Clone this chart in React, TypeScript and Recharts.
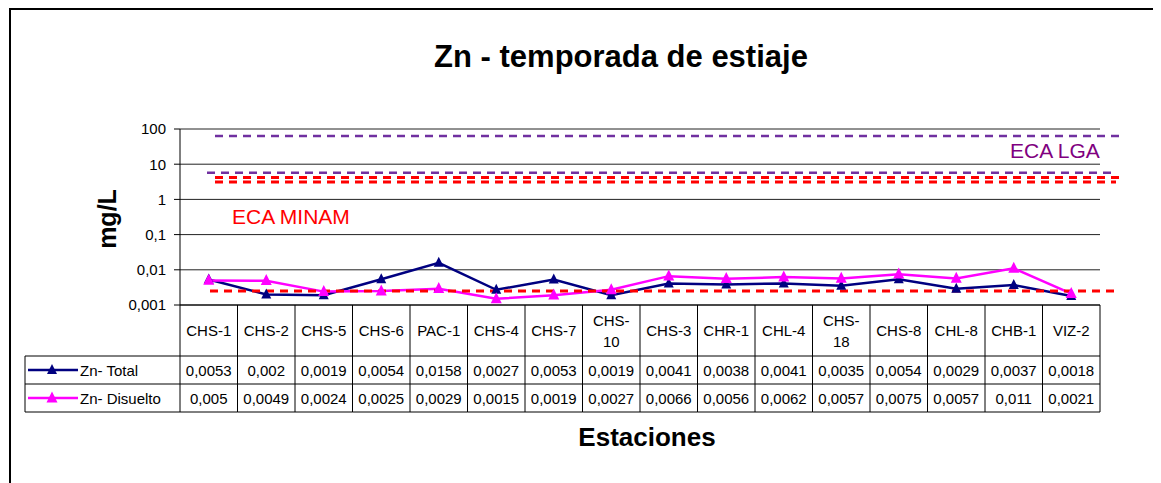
import { LineChart, Line, XAxis, YAxis, CartesianGrid, ReferenceLine } from "recharts";

const stations = [
  "CHS-1", "CHS-2", "CHS-5", "CHS-6", "PAC-1", "CHS-4", "CHS-7", "CHS-10",
  "CHS-3", "CHR-1", "CHL-4", "CHS-18", "CHS-8", "CHL-8", "CHB-1", "VIZ-2",
];
const znTotal = [
  0.0053, 0.002, 0.0019, 0.0054, 0.0158, 0.0027, 0.0053, 0.0019,
  0.0041, 0.0038, 0.0041, 0.0035, 0.0054, 0.0029, 0.0037, 0.0018,
];
const znDisuelto = [
  0.005, 0.0049, 0.0024, 0.0025, 0.0029, 0.0015, 0.0019, 0.0027,
  0.0066, 0.0056, 0.0062, 0.0057, 0.0075, 0.0057, 0.011, 0.0021,
];
const yTicks = [0.001, 0.01, 0.1, 1, 10, 100];
// guideline values (mg/L)
const ecaLGA = [63, 5.7];
const ecaMINAM = [4.2, 3.1, 0.0025];

const FONT = "'Liberation Sans', Arial, sans-serif";
const NAVY = "#000080";
const MAGENTA = "#FF00FF";
const PURPLE = "#7030A0";
const RED = "#FF0000";

const W = 1153;
const H = 475;
const MARGIN = { top: 121, right: 61, bottom: 68, left: 112 };
const Y_AXIS_W = 60;
const PLOT_LEFT = MARGIN.left + Y_AXIS_W;
const PLOT_W = W - PLOT_LEFT - MARGIN.right;
const COL_W = PLOT_W / stations.length;
const PLOT_BOTTOM = H - MARGIN.bottom - 110;
const HEAD_H = 51;
const ROW_H = 28;
const LEGEND_LEFT = 17;

// [start inset, overhang past right edge] for each dashed line
const lgaStyle = [[35, 22], [27, 13]];
const minamStyle = [[35, 21], [35, 16], [30, 14]];

const data = stations.map((s, i) => ({ name: s, total: znTotal[i], disuelto: znDisuelto[i] }));

const fmt = (v: number) => String(v).replace(".", ",");

function Triangle({ cx, cy, fill, size }: { cx: number; cy: number; fill: string; size: number }) {
  if (cx == null || cy == null) return null;
  const h = size;
  return (
    <path
      d={`M${cx},${cy - h * 0.6} L${cx + size / 2},${cy + h * 0.4} L${cx - size / 2},${cy + h * 0.4} Z`}
      fill={fill}
    />
  );
}

function dashShape(inset: number, over: number, color: string, width: number) {
  return (p: any) => (
    <line
      x1={PLOT_LEFT + inset}
      x2={PLOT_LEFT + PLOT_W + over}
      y1={p.y1}
      y2={p.y2}
      stroke={color}
      strokeWidth={width}
      strokeDasharray="8 6"
    />
  );
}

function TableColumn(props: any) {
  const { x, index } = props;
  const label: string = stations[index];
  const left = x - COL_W / 2;
  const right = x + COL_W / 2;
  const top = PLOT_BOTTOM;
  const r1 = top + HEAD_H;
  const r2 = r1 + ROW_H;
  const r3 = r2 + ROW_H;
  const cut = label.indexOf("-") + 1;
  const lines = label.length > 5 ? [label.slice(0, cut), label.slice(cut)] : [label];
  const textStyle = { fontFamily: FONT, fontSize: 15, fill: "#000" };
  return (
    <g>
      <line x1={left} x2={left} y1={top} y2={r3} stroke="#000" />
      {index === stations.length - 1 && <line x1={right} x2={right} y1={top} y2={r3} stroke="#000" />}
      <line x1={left} x2={right} y1={r1} y2={r1} stroke="#000" />
      <line x1={left} x2={right} y1={r2} y2={r2} stroke="#000" />
      <line x1={left} x2={right} y1={r3} y2={r3} stroke="#000" />
      {lines.map((t, k) => (
        <text
          key={k}
          x={x}
          y={top + HEAD_H / 2 + (lines.length === 1 ? 0 : (k - 0.5) * 21)}
          textAnchor="middle"
          dominantBaseline="central"
          {...textStyle}
        >
          {t}
        </text>
      ))}
      <text x={x} y={r1 + ROW_H / 2} textAnchor="middle" dominantBaseline="central" {...textStyle}>
        {fmt(znTotal[index])}
      </text>
      <text x={x} y={r2 + ROW_H / 2} textAnchor="middle" dominantBaseline="central" {...textStyle}>
        {fmt(znDisuelto[index])}
      </text>
      {index === 0 && (
        <g>
          <line x1={LEGEND_LEFT} x2={left} y1={r1} y2={r1} stroke="#000" />
          <line x1={LEGEND_LEFT} x2={left} y1={r2} y2={r2} stroke="#000" />
          <line x1={LEGEND_LEFT} x2={left} y1={r3} y2={r3} stroke="#000" />
          <line x1={LEGEND_LEFT} x2={LEGEND_LEFT} y1={r1} y2={r3} stroke="#000" />
          <line x1={LEGEND_LEFT + 3} x2={LEGEND_LEFT + 53} y1={r1 + ROW_H / 2} y2={r1 + ROW_H / 2} stroke={NAVY} strokeWidth={2.5} />
          <Triangle cx={LEGEND_LEFT + 27} cy={r1 + ROW_H / 2} fill={NAVY} size={10} />
          <text x={LEGEND_LEFT + 55} y={r1 + ROW_H / 2} dominantBaseline="central" {...textStyle}>
            Zn- Total
          </text>
          <line x1={LEGEND_LEFT + 3} x2={LEGEND_LEFT + 53} y1={r2 + ROW_H / 2} y2={r2 + ROW_H / 2} stroke={MAGENTA} strokeWidth={2.5} />
          <Triangle cx={LEGEND_LEFT + 27} cy={r2 + ROW_H / 2} fill={MAGENTA} size={11} />
          <text x={LEGEND_LEFT + 55} y={r2 + ROW_H / 2} dominantBaseline="central" {...textStyle}>
            Zn- Disuelto
          </text>
        </g>
      )}
    </g>
  );
}

export default function App() {
  return (
    <div style={{ position: "relative", width: W, height: H, fontFamily: FONT }}>
      <div
        style={{
          position: "absolute",
          left: 1,
          top: 0,
          width: W,
          height: H,
          borderTop: "2px solid #000",
          borderLeft: "2px solid #000",
        }}
      />
      <div style={{ position: "absolute", left: 0, top: 0 }}>
        <LineChart width={W} height={H} data={data} margin={MARGIN}>
          <CartesianGrid vertical={false} stroke="#222" />
          <XAxis
            dataKey="name"
            height={110}
            interval={0}
            tickSize={0}
            tickMargin={0}
            padding={{ left: COL_W / 2, right: COL_W / 2 }}
            axisLine={{ stroke: "#000" }}
            tick={(p: any) => <TableColumn {...p} />}
          />
          <XAxis
            xAxisId="top"
            dataKey="name"
            orientation="top"
            height={0}
            tick={false}
            tickLine={false}
            axisLine={{ stroke: "#808080", strokeWidth: 2.5 }}
          />
          <YAxis
            scale="log"
            type="number"
            domain={[0.001, 100]}
            ticks={yTicks}
            allowDataOverflow
            width={Y_AXIS_W}
            tickSize={6}
            tickMargin={8}
            tickFormatter={fmt}
            axisLine={{ stroke: "#000" }}
            tickLine={{ stroke: "#000" }}
            tick={{ fill: "#000", fontSize: 15, fontFamily: FONT }}
          />
          <YAxis
            yAxisId="right"
            orientation="right"
            width={0}
            tick={false}
            tickLine={false}
            axisLine={{ stroke: "#808080", strokeWidth: 2.5 }}
          />
          <Line
            dataKey="total"
            stroke={NAVY}
            strokeWidth={2.5}
            isAnimationActive={false}
            dot={(p: any) => <Triangle key={`t${p.index}`} cx={p.cx} cy={p.cy} fill={NAVY} size={10} />}
            activeDot={false}
          />
          <Line
            dataKey="disuelto"
            stroke={MAGENTA}
            strokeWidth={2.5}
            isAnimationActive={false}
            dot={(p: any) => <Triangle key={`d${p.index}`} cx={p.cx} cy={p.cy} fill={MAGENTA} size={11} />}
            activeDot={false}
          />
          {ecaLGA.map((v, i) => (
            <ReferenceLine
              key={`lga${i}`}
              y={v}
              ifOverflow="visible"
              shape={dashShape(lgaStyle[i][0], lgaStyle[i][1], PURPLE, 2.5)}
            />
          ))}
          {ecaMINAM.map((v, i) => (
            <ReferenceLine
              key={`minam${i}`}
              y={v}
              ifOverflow="visible"
              shape={dashShape(minamStyle[i][0], minamStyle[i][1], RED, 3)}
            />
          ))}
        </LineChart>
      </div>
      <svg
        width={W}
        height={H}
        style={{ position: "absolute", left: 0, top: 0, pointerEvents: "none" }}
      >
        <text x={613} y={59} textAnchor="middle" fontFamily={FONT} fontSize={31} fontWeight="bold" fill="#000">
          Zn - temporada de estiaje
        </text>
        <text
          transform="translate(108,211) rotate(-90)"
          textAnchor="middle"
          fontFamily={FONT}
          fontSize={25}
          fontWeight="bold"
          fill="#000"
        >
          mg/L
        </text>
        <text x={224} y={216} fontFamily={FONT} fontSize={21} fill={RED}>
          ECA MINAM
        </text>
        <text x={1002} y={150} fontFamily={FONT} fontSize={21} fill="#800080">
          ECA LGA
        </text>
        <text x={639} y={438} textAnchor="middle" fontFamily={FONT} fontSize={26} fontWeight="bold" fill="#000">
          Estaciones
        </text>
      </svg>
    </div>
  );
}
